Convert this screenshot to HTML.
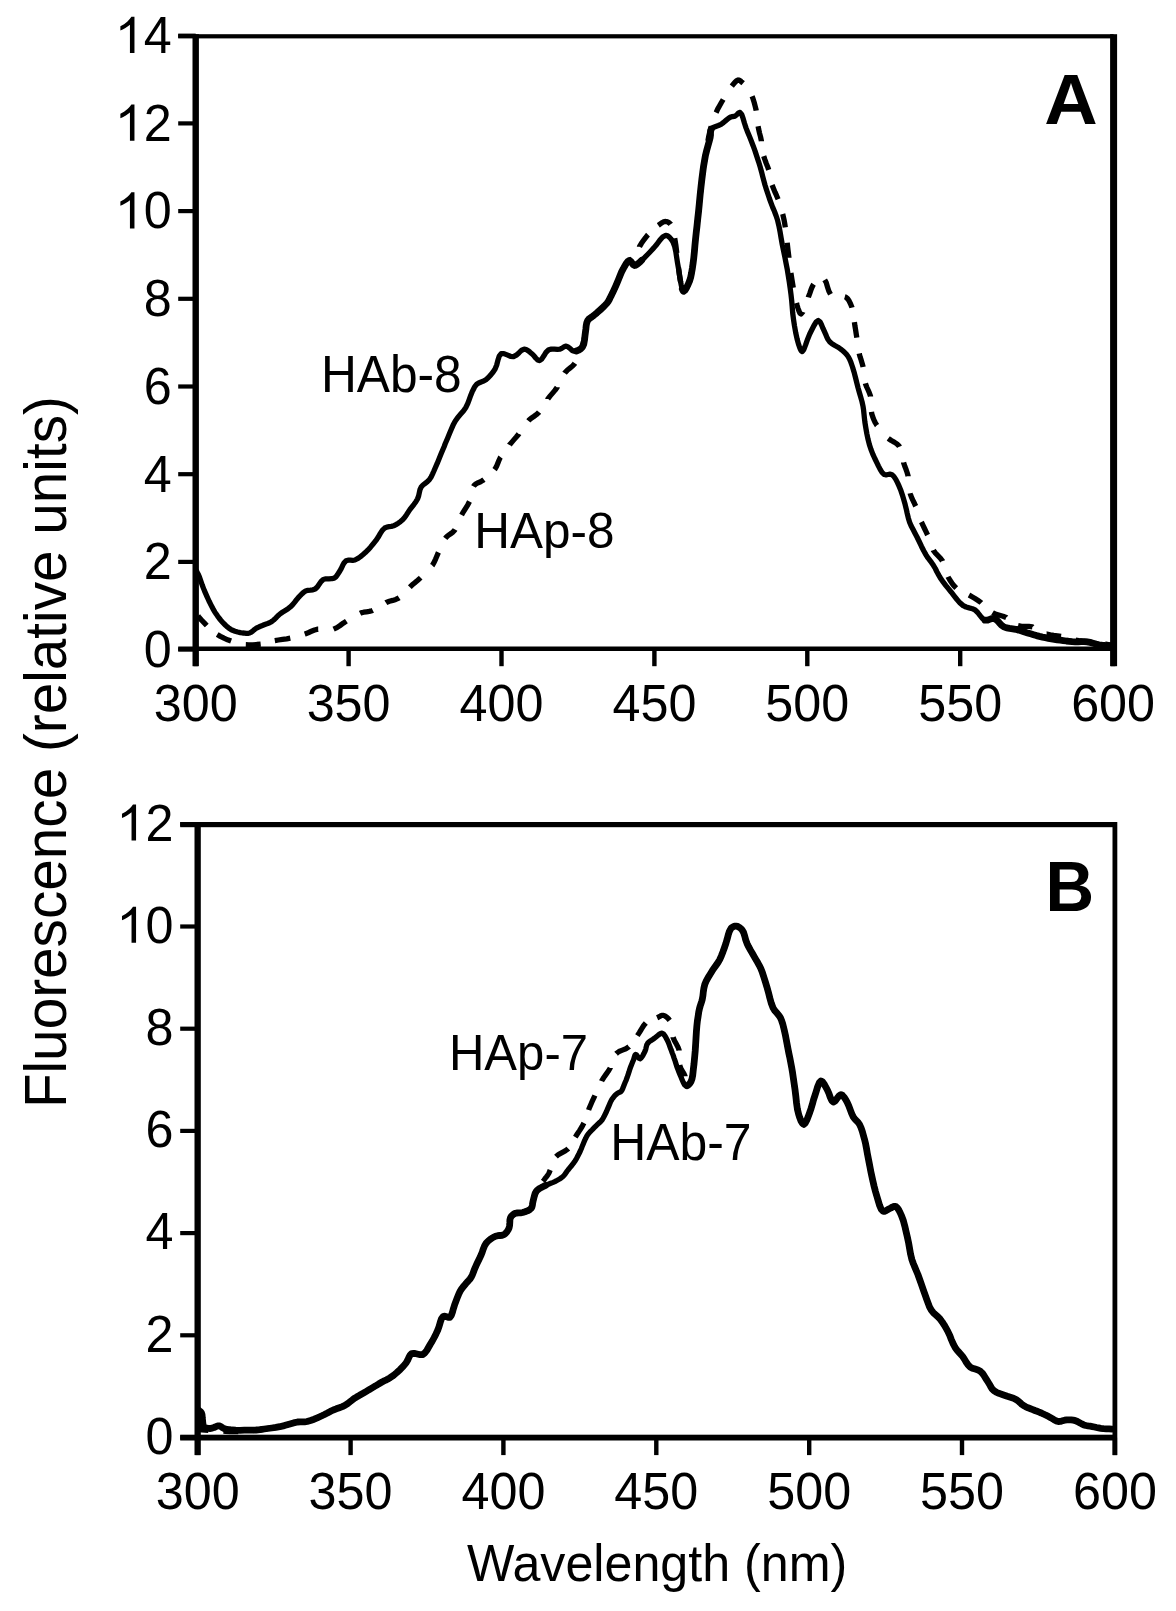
<!DOCTYPE html>
<html><head><meta charset="utf-8"><style>
html,body{margin:0;padding:0;background:#fff;}
svg{display:block;}
text{font-family:"Liberation Sans",sans-serif;font-size:50.3px;fill:#000;}
.s{fill:none;stroke:#000;stroke-width:5.3;stroke-linejoin:round;stroke-linecap:round;}
.t{fill:none;stroke:#000;stroke-width:6.8;stroke-linejoin:round;stroke-linecap:round;}
.d2{fill:none;stroke:#000;stroke-width:5.3;stroke-linejoin:round;stroke-linecap:butt;}
.d{fill:none;stroke:#000;stroke-width:5.3;stroke-linejoin:round;stroke-linecap:butt;stroke-dasharray:15 15;}
</style></head><body>
<svg width="1176" height="1611" viewBox="0 0 1176 1611">
<rect width="1176" height="1611" fill="#fff"/>
<g fill="#000">
<rect x="192.5" y="34.2" width="6.4" height="632.0" />
<rect x="1110.1" y="34.2" width="7.0" height="632.0" />
<rect x="178.2" y="34.2" width="935.4" height="4.2" />
<rect x="178.2" y="646.5" width="935.4" height="4.5" />
<rect x="178.2" y="647.5" width="17.5" height="4.2" />
<text x="0" y="0" transform="translate(143.82,666.90) scale(1,1.04)">0</text>
<rect x="178.2" y="559.8" width="17.5" height="4.2" />
<text x="0" y="0" transform="translate(143.82,579.20) scale(1,1.04)">2</text>
<rect x="178.2" y="472.1" width="17.5" height="4.2" />
<text x="0" y="0" transform="translate(143.82,491.50) scale(1,1.04)">4</text>
<rect x="178.2" y="384.4" width="17.5" height="4.2" />
<text x="0" y="0" transform="translate(143.82,403.80) scale(1,1.04)">6</text>
<rect x="178.2" y="296.7" width="17.5" height="4.2" />
<text x="0" y="0" transform="translate(143.82,316.10) scale(1,1.04)">8</text>
<rect x="178.2" y="209.0" width="17.5" height="4.2" />
<path d="M0.370,0 L0.280,0 L0.280,-0.560 C0.258,-0.539 0.228,-0.518 0.190,-0.496 C0.153,-0.474 0.119,-0.458 0.090,-0.447 L0.090,-0.532 C0.142,-0.556 0.187,-0.586 0.226,-0.621 C0.265,-0.656 0.292,-0.689 0.309,-0.716 L0.370,-0.716 Z" transform="translate(115.85,228.40) scale(50.30,50.48)"/><text x="0" y="0" transform="translate(143.82,228.40) scale(1,1.04)">0</text>
<rect x="178.2" y="121.3" width="17.5" height="4.2" />
<path d="M0.370,0 L0.280,0 L0.280,-0.560 C0.258,-0.539 0.228,-0.518 0.190,-0.496 C0.153,-0.474 0.119,-0.458 0.090,-0.447 L0.090,-0.532 C0.142,-0.556 0.187,-0.586 0.226,-0.621 C0.265,-0.656 0.292,-0.689 0.309,-0.716 L0.370,-0.716 Z" transform="translate(115.85,140.70) scale(50.30,50.48)"/><text x="0" y="0" transform="translate(143.82,140.70) scale(1,1.04)">2</text>
<rect x="178.2" y="33.6" width="17.5" height="4.2" />
<path d="M0.370,0 L0.280,0 L0.280,-0.560 C0.258,-0.539 0.228,-0.518 0.190,-0.496 C0.153,-0.474 0.119,-0.458 0.090,-0.447 L0.090,-0.532 C0.142,-0.556 0.187,-0.586 0.226,-0.621 C0.265,-0.656 0.292,-0.689 0.309,-0.716 L0.370,-0.716 Z" transform="translate(115.85,53.00) scale(50.30,50.48)"/><text x="0" y="0" transform="translate(143.82,53.00) scale(1,1.04)">4</text>
<rect x="193.5" y="648.7" width="4.4" height="17.5" />
<text x="0" y="0" transform="translate(153.73,721.10) scale(1,1.04)">3</text><text x="0" y="0" transform="translate(181.71,721.10) scale(1,1.04)">0</text><text x="0" y="0" transform="translate(209.69,721.10) scale(1,1.04)">0</text>
<rect x="346.4" y="648.7" width="4.4" height="17.5" />
<text x="0" y="0" transform="translate(306.63,721.10) scale(1,1.04)">3</text><text x="0" y="0" transform="translate(334.61,721.10) scale(1,1.04)">5</text><text x="0" y="0" transform="translate(362.59,721.10) scale(1,1.04)">0</text>
<rect x="499.3" y="648.7" width="4.4" height="17.5" />
<text x="0" y="0" transform="translate(459.53,721.10) scale(1,1.04)">4</text><text x="0" y="0" transform="translate(487.51,721.10) scale(1,1.04)">0</text><text x="0" y="0" transform="translate(515.49,721.10) scale(1,1.04)">0</text>
<rect x="652.2" y="648.7" width="4.4" height="17.5" />
<text x="0" y="0" transform="translate(612.43,721.10) scale(1,1.04)">4</text><text x="0" y="0" transform="translate(640.41,721.10) scale(1,1.04)">5</text><text x="0" y="0" transform="translate(668.39,721.10) scale(1,1.04)">0</text>
<rect x="805.1" y="648.7" width="4.4" height="17.5" />
<text x="0" y="0" transform="translate(765.33,721.10) scale(1,1.04)">5</text><text x="0" y="0" transform="translate(793.31,721.10) scale(1,1.04)">0</text><text x="0" y="0" transform="translate(821.29,721.10) scale(1,1.04)">0</text>
<rect x="958.0" y="648.7" width="4.4" height="17.5" />
<text x="0" y="0" transform="translate(918.23,721.10) scale(1,1.04)">5</text><text x="0" y="0" transform="translate(946.21,721.10) scale(1,1.04)">5</text><text x="0" y="0" transform="translate(974.19,721.10) scale(1,1.04)">0</text>
<rect x="1110.9" y="648.7" width="4.4" height="17.5" />
<text x="0" y="0" transform="translate(1071.13,721.10) scale(1,1.04)">6</text><text x="0" y="0" transform="translate(1099.11,721.10) scale(1,1.04)">0</text><text x="0" y="0" transform="translate(1127.09,721.10) scale(1,1.04)">0</text>
<rect x="194.5" y="822.0" width="6.3" height="633.1" />
<rect x="1112.5" y="822.0" width="4.8" height="633.1" />
<rect x="180.2" y="822.0" width="934.7" height="5.2" />
<rect x="180.2" y="1434.7" width="934.7" height="5.8" />
<rect x="180.2" y="1435.4" width="17.5" height="4.2" />
<text x="0" y="0" transform="translate(145.42,1453.80) scale(1,1.04)">0</text>
<rect x="180.2" y="1333.2" width="17.5" height="4.2" />
<text x="0" y="0" transform="translate(145.42,1351.60) scale(1,1.04)">2</text>
<rect x="180.2" y="1231.0" width="17.5" height="4.2" />
<text x="0" y="0" transform="translate(145.42,1249.40) scale(1,1.04)">4</text>
<rect x="180.2" y="1128.8" width="17.5" height="4.2" />
<text x="0" y="0" transform="translate(145.42,1147.20) scale(1,1.04)">6</text>
<rect x="180.2" y="1026.6" width="17.5" height="4.2" />
<text x="0" y="0" transform="translate(145.42,1045.00) scale(1,1.04)">8</text>
<rect x="180.2" y="924.4" width="17.5" height="4.2" />
<path d="M0.370,0 L0.280,0 L0.280,-0.560 C0.258,-0.539 0.228,-0.518 0.190,-0.496 C0.153,-0.474 0.119,-0.458 0.090,-0.447 L0.090,-0.532 C0.142,-0.556 0.187,-0.586 0.226,-0.621 C0.265,-0.656 0.292,-0.689 0.309,-0.716 L0.370,-0.716 Z" transform="translate(117.45,942.80) scale(50.30,50.48)"/><text x="0" y="0" transform="translate(145.42,942.80) scale(1,1.04)">0</text>
<rect x="180.2" y="822.2" width="17.5" height="4.2" />
<path d="M0.370,0 L0.280,0 L0.280,-0.560 C0.258,-0.539 0.228,-0.518 0.190,-0.496 C0.153,-0.474 0.119,-0.458 0.090,-0.447 L0.090,-0.532 C0.142,-0.556 0.187,-0.586 0.226,-0.621 C0.265,-0.656 0.292,-0.689 0.309,-0.716 L0.370,-0.716 Z" transform="translate(117.45,840.60) scale(50.30,50.48)"/><text x="0" y="0" transform="translate(145.42,840.60) scale(1,1.04)">2</text>
<rect x="195.5" y="1437.6" width="4.4" height="17.5" />
<text x="0" y="0" transform="translate(155.73,1508.80) scale(1,1.04)">3</text><text x="0" y="0" transform="translate(183.71,1508.80) scale(1,1.04)">0</text><text x="0" y="0" transform="translate(211.69,1508.80) scale(1,1.04)">0</text>
<rect x="348.4" y="1437.6" width="4.4" height="17.5" />
<text x="0" y="0" transform="translate(308.60,1508.80) scale(1,1.04)">3</text><text x="0" y="0" transform="translate(336.58,1508.80) scale(1,1.04)">5</text><text x="0" y="0" transform="translate(364.55,1508.80) scale(1,1.04)">0</text>
<rect x="501.2" y="1437.6" width="4.4" height="17.5" />
<text x="0" y="0" transform="translate(461.46,1508.80) scale(1,1.04)">4</text><text x="0" y="0" transform="translate(489.44,1508.80) scale(1,1.04)">0</text><text x="0" y="0" transform="translate(517.42,1508.80) scale(1,1.04)">0</text>
<rect x="654.1" y="1437.6" width="4.4" height="17.5" />
<text x="0" y="0" transform="translate(614.33,1508.80) scale(1,1.04)">4</text><text x="0" y="0" transform="translate(642.31,1508.80) scale(1,1.04)">5</text><text x="0" y="0" transform="translate(670.28,1508.80) scale(1,1.04)">0</text>
<rect x="807.0" y="1437.6" width="4.4" height="17.5" />
<text x="0" y="0" transform="translate(767.19,1508.80) scale(1,1.04)">5</text><text x="0" y="0" transform="translate(795.17,1508.80) scale(1,1.04)">0</text><text x="0" y="0" transform="translate(823.15,1508.80) scale(1,1.04)">0</text>
<rect x="959.8" y="1437.6" width="4.4" height="17.5" />
<text x="0" y="0" transform="translate(920.06,1508.80) scale(1,1.04)">5</text><text x="0" y="0" transform="translate(948.04,1508.80) scale(1,1.04)">5</text><text x="0" y="0" transform="translate(976.01,1508.80) scale(1,1.04)">0</text>
<rect x="1112.7" y="1437.6" width="4.4" height="17.5" />
<text x="0" y="0" transform="translate(1072.92,1508.80) scale(1,1.04)">6</text><text x="0" y="0" transform="translate(1100.90,1508.80) scale(1,1.04)">0</text><text x="0" y="0" transform="translate(1128.88,1508.80) scale(1,1.04)">0</text>
<path d="M196.5,571.0 L197.1,572.2 L197.7,573.4 L198.4,574.6 L199.0,576.0 L200.0,578.7 L201.1,581.8 L202.2,585.0 L203.4,588.1 L204.5,590.9 L205.7,593.6 L206.9,596.3 L208.1,599.0 L209.4,601.8 L210.8,604.6 L212.2,607.3 L213.6,609.9 L214.9,612.1 L216.2,614.1 L217.6,616.1 L219.0,618.0 L220.6,620.0 L222.3,621.9 L224.0,623.8 L225.8,625.5 L227.4,626.9 L229.0,628.2 L230.7,629.3 L232.6,630.3 L235.0,631.2 L237.7,632.0 L240.3,632.6 L242.8,633.0 L244.6,633.2 L246.3,633.4 L248.0,633.3 L249.6,633.0 L251.3,632.1 L253.0,630.8 L254.7,629.4 L256.4,628.2 L258.1,627.3 L259.9,626.5 L261.7,625.8 L263.5,625.0 L265.5,624.2 L267.6,623.5 L269.6,622.7 L271.6,621.6 L273.7,620.0 L275.7,618.1 L277.7,616.0 L279.8,614.1 L282.4,612.3 L285.3,610.5 L288.1,608.7 L290.7,606.7 L292.9,604.4 L294.9,601.9 L296.8,599.4 L298.8,597.1 L300.5,595.3 L302.1,593.7 L303.7,592.2 L305.6,591.0 L307.9,590.3 L310.4,590.1 L312.9,589.8 L315.2,589.0 L317.3,587.0 L319.2,584.2 L321.1,581.5 L323.3,579.5 L325.9,578.8 L328.9,578.8 L331.8,578.7 L334.2,578.1 L335.9,576.8 L337.2,575.1 L338.4,573.3 L339.7,571.3 L341.2,568.6 L342.6,565.6 L344.1,562.8 L346.0,560.8 L348.0,560.2 L350.3,560.2 L352.6,560.4 L354.9,560.0 L357.5,558.7 L360.2,556.9 L362.8,554.8 L365.3,552.6 L368.0,549.9 L370.7,546.9 L373.3,543.8 L375.8,540.7 L378.1,537.3 L380.2,533.7 L382.3,530.4 L384.7,528.0 L386.8,527.1 L389.1,526.7 L391.4,526.4 L393.6,525.8 L395.9,524.6 L398.3,523.2 L400.5,521.6 L402.6,519.8 L404.6,517.5 L406.4,514.9 L408.2,512.1 L410.0,509.4 L412.0,506.8 L414.0,504.3 L415.9,501.7 L417.5,499.0 L418.6,496.0 L419.3,492.8 L420.0,489.7 L421.2,487.0 L423.0,485.0 L425.2,483.3 L427.4,481.6 L429.4,479.6 L431.1,477.0 L432.5,474.1 L433.9,471.0 L435.3,467.7 L437.2,463.4 L439.1,458.8 L441.0,454.1 L442.8,449.8 L444.1,446.7 L445.2,443.8 L446.4,441.0 L447.7,437.9 L449.4,433.8 L451.2,429.5 L453.1,425.1 L455.3,421.0 L457.8,417.4 L460.7,414.1 L463.6,410.7 L466.0,407.2 L467.8,403.4 L469.3,399.3 L470.7,395.4 L472.1,391.9 L473.2,389.7 L474.2,387.7 L475.3,385.9 L476.7,384.3 L478.7,383.0 L481.1,382.0 L483.6,381.1 L485.9,379.7 L488.4,377.5 L490.8,374.9 L493.1,372.0 L495.1,369.0 L496.7,365.0 L497.9,360.3 L499.2,356.2 L501.2,353.7 L503.9,353.6 L507.1,354.9 L510.4,356.3 L513.5,356.7 L516.3,355.2 L519.1,352.7 L521.7,350.2 L524.2,349.1 L526.2,349.5 L528.1,350.7 L530.0,352.2 L531.8,353.7 L533.8,355.6 L535.7,358.0 L537.6,359.9 L539.5,360.6 L541.7,359.1 L543.9,355.8 L546.1,352.2 L548.7,349.8 L551.4,349.1 L554.4,349.2 L557.4,349.4 L560.0,349.2 L561.7,348.4 L563.2,347.4 L564.6,346.5 L566.1,346.1 L568.1,346.9 L570.1,348.6 L572.2,350.4 L574.3,351.2 L576.4,351.0 L578.7,350.1 L580.7,348.8 L582.4,347.1 L583.8,344.0 L584.5,340.0 L585.0,335.7 L585.5,331.8 L585.9,328.7 L586.2,325.7 L586.7,323.0 L587.6,320.6 L588.8,319.1 L590.3,318.0 L591.9,316.9 L593.7,315.5 L596.9,312.8 L600.5,309.6 L604.1,306.3 L606.9,303.3 L608.2,301.5 L609.2,299.8 L610.0,298.0 L611.0,296.1 L612.5,293.1 L614.0,289.8 L615.6,286.3 L617.1,282.9 L618.6,279.3 L620.1,275.5 L621.6,271.9 L623.3,268.6 L624.8,266.0 L626.3,263.3 L627.9,261.3 L629.4,260.4 L630.6,261.1 L631.9,262.8 L633.1,264.6 L634.5,265.5 L636.1,265.1 L637.9,263.8 L639.7,262.2 L641.6,260.4 L644.5,257.7 L647.6,254.5 L650.7,251.2 L653.8,247.9 L656.9,244.2 L659.9,240.1 L662.9,236.8 L665.7,235.4 L667.7,235.9 L669.6,237.4 L671.4,239.5 L672.9,241.9 L674.6,246.3 L675.8,251.7 L676.7,257.6 L677.6,263.3 L678.6,269.0 L679.4,274.8 L680.3,280.3 L681.2,284.8 L681.7,287.0 L682.3,289.1 L682.9,290.6 L683.6,291.3 L684.9,290.3 L686.5,287.8 L688.1,284.5 L689.5,281.2 L690.7,277.2 L691.6,272.8 L692.4,268.1 L693.1,263.3 L693.8,257.6 L694.4,251.7 L694.9,245.7 L695.5,239.5 L696.2,232.8 L697.0,226.0 L697.7,219.1 L698.5,212.0 L699.3,203.8 L700.1,195.3 L701.0,186.9 L701.9,179.0 L702.7,172.7 L703.5,166.6 L704.5,160.8 L705.5,155.2 L706.7,150.4 L708.0,145.7 L709.2,141.3 L710.2,137.4 L710.5,135.0 L710.5,132.8 L710.7,130.8 L711.4,129.0 L713.2,127.5 L715.7,126.5 L718.4,125.5 L721.0,124.3 L723.5,122.5 L726.0,120.4 L728.3,118.5 L730.5,117.1 L731.8,116.7 L732.9,116.5 L734.1,116.4 L735.2,116.0 L736.5,115.0 L737.7,113.8 L738.9,112.7 L740.0,112.4 L741.7,114.4 L743.1,118.4 L744.5,123.3 L746.0,127.9 L747.7,132.2 L749.5,136.6 L751.3,141.1 L753.1,145.7 L755.0,150.9 L756.8,156.4 L758.6,161.8 L760.2,167.1 L761.5,171.7 L762.6,176.1 L763.8,180.6 L765.0,185.0 L766.4,189.5 L767.9,194.0 L769.4,198.5 L771.0,202.9 L772.6,207.1 L774.4,211.3 L776.0,215.5 L777.5,220.0 L778.9,225.8 L780.1,232.1 L781.2,238.5 L782.3,244.8 L783.6,251.0 L784.9,257.2 L786.1,263.4 L787.3,269.6 L788.3,275.8 L789.3,282.0 L790.2,288.3 L791.0,294.5 L791.7,300.7 L792.2,306.9 L792.7,313.1 L793.5,319.3 L794.5,325.9 L795.7,332.6 L797.1,339.0 L798.5,344.1 L799.4,346.7 L800.3,349.1 L801.2,350.9 L802.2,351.6 L803.8,349.6 L805.6,344.9 L807.6,339.2 L809.6,334.2 L811.7,330.0 L814.0,325.5 L816.2,321.9 L818.3,320.5 L820.0,321.8 L821.5,324.8 L823.0,328.4 L824.5,331.7 L825.7,334.3 L826.7,336.9 L827.9,339.3 L829.5,341.6 L832.0,343.7 L834.9,345.5 L838.0,347.2 L840.7,349.1 L842.8,350.8 L844.7,352.5 L846.5,354.4 L848.1,356.5 L849.6,359.2 L850.9,362.3 L852.0,365.5 L853.1,368.9 L854.4,373.3 L855.6,378.0 L856.8,382.8 L858.0,387.6 L859.3,392.3 L860.7,397.0 L862.0,401.6 L863.0,406.2 L863.6,410.2 L864.0,414.1 L864.4,418.1 L864.9,422.3 L865.8,427.7 L866.8,433.5 L868.0,439.2 L869.4,444.7 L871.0,449.5 L872.8,454.1 L874.8,458.5 L876.8,462.6 L878.5,466.1 L880.3,469.6 L882.2,472.6 L884.3,474.5 L886.1,474.8 L888.0,474.5 L889.9,474.2 L891.7,474.5 L893.8,476.4 L895.8,479.4 L897.6,482.9 L899.2,486.4 L900.9,490.6 L902.4,495.1 L903.8,499.7 L905.1,504.3 L906.2,508.8 L907.2,513.4 L908.3,517.9 L909.6,522.2 L911.2,526.0 L913.1,529.6 L915.0,533.3 L917.0,537.0 L919.2,541.5 L921.4,546.2 L923.7,550.8 L926.0,554.9 L927.8,557.7 L929.7,560.2 L931.6,562.7 L933.4,565.3 L935.3,568.5 L937.0,572.0 L938.9,575.4 L940.9,578.8 L943.3,582.2 L945.9,585.6 L948.6,588.9 L951.3,592.2 L954.1,595.8 L957.0,599.5 L960.0,602.9 L963.2,605.6 L966.1,607.0 L969.2,607.9 L972.3,608.7 L975.1,610.0 L977.7,612.5 L980.1,615.6 L982.5,618.5 L985.0,620.2 L987.3,620.2 L989.6,619.4 L992.0,618.6 L994.3,618.6 L996.7,620.0 L999.0,622.4 L1001.3,625.0 L1003.8,626.9 L1006.6,627.9 L1009.6,628.4 L1012.7,628.8 L1015.7,629.3 L1018.7,630.1 L1021.7,631.0 L1024.6,632.0 L1027.6,632.9 L1030.6,633.8 L1033.5,634.7 L1036.5,635.6 L1039.5,636.4 L1042.5,637.1 L1045.4,637.7 L1048.4,638.3 L1051.4,638.8 L1054.4,639.3 L1057.3,639.8 L1060.3,640.2 L1063.3,640.6 L1066.3,641.0 L1069.2,641.3 L1072.2,641.6 L1075.2,641.8 L1078.2,641.8 L1081.2,641.7 L1084.1,641.6 L1087.1,641.8 L1090.1,642.4 L1093.0,643.2 L1096.0,644.1 L1099.0,644.8 L1102.0,645.2 L1105.0,645.5 L1108.0,645.7 L1111.0,646.0" class="s"/>
<path d="M198.0,615.9 L198.6,616.7 L200.1,618.4 L201.9,620.5 L204.0,622.7 L206.1,624.8 L206.8,625.5 M217.2,634.5 L220.4,636.4 L224.0,638.2 L227.6,639.8 L231.1,641.1 M245.8,644.7 L248.9,644.8 L252.8,644.8 L256.8,644.5 L260.7,644.1 L260.7,644.1 M274.8,640.6 L278.4,640.0 L282.5,639.4 L286.7,638.8 L290.3,638.1 M304.7,634.0 L305.0,633.9 L308.2,632.7 L311.4,631.3 L314.6,630.0 L317.9,629.1 L318.2,629.1 M333.6,629.1 L336.9,627.6 L340.1,625.5 L343.2,623.2 L346.4,621.1 M360.1,613.3 L360.9,612.9 L363.7,612.2 L366.5,611.8 L369.2,611.4 L372.0,610.7 L372.8,610.3 M385.9,602.7 L386.2,602.5 L389.4,601.3 L392.7,600.4 L395.8,599.4 L398.8,598.0 L399.1,597.8 M409.8,587.1 L410.0,586.9 L412.6,584.6 L415.2,582.4 L417.8,580.3 L420.4,577.9 L420.6,577.7 M432.2,565.5 L432.4,565.3 L434.2,562.2 L435.6,559.1 L436.9,555.9 L438.3,552.6 L438.4,552.4 M445.3,538.4 L445.8,537.7 L447.9,535.6 L450.3,534.0 L452.6,532.3 L454.7,530.2 L455.1,529.5 M461.6,515.0 L463.4,511.8 L465.6,508.3 L467.8,504.8 L469.5,501.5 M473.6,486.5 L474.1,485.5 L476.0,483.8 L478.2,482.7 L480.6,481.7 L483.0,480.3 L483.9,479.6 M494.6,469.6 L494.9,469.2 L496.5,466.4 L497.7,463.4 L498.9,460.5 L500.3,457.5 L500.6,457.1 M509.5,445.0 L509.6,444.8 L511.9,442.1 L514.2,439.4 L516.5,436.8 L518.8,434.0 L518.9,433.8 M528.4,420.8 L528.8,420.3 L531.2,418.2 L533.8,416.5 L536.3,414.7 L538.7,412.6 L539.1,412.1 M547.9,398.9 L547.9,398.8 L550.2,395.9 L552.6,393.1 L554.9,390.4 L557.1,387.4 L557.1,387.3 M564.6,373.1 L564.8,372.8 L567.2,370.3 L569.9,368.1 L572.5,366.0 L574.7,363.6 L574.9,363.3 M581.1,349.2 L581.1,349.1 L582.2,346.1 L583.1,343.1 L584.0,340.0 L584.7,336.5 L585.0,334.7 M588.8,319.8 L589.0,319.6 L590.0,318.0 L590.8,317.2 L591.7,316.7 L592.6,316.2 L593.7,315.5 L596.7,313.1 L600.1,310.1 M609.9,298.4 L610.0,298.0 L611.0,296.1 L612.5,293.1 L614.0,289.8 L615.6,286.3 L616.3,284.8 M622.3,270.6 L623.3,268.6 L624.7,266.2 L626.2,264.0 L627.8,262.0 L629.4,260.4 L630.7,259.7 L631.7,259.4 M639.5,246.8 L639.5,246.7 L641.3,243.6 L643.4,240.6 L645.6,237.6 L647.9,234.8 L648.0,234.7 M658.3,225.4 L658.6,225.2 L660.3,223.9 L661.9,222.8 L663.4,221.9 L665.0,221.5 L666.4,221.6 L667.9,222.1 L669.3,222.9 L670.5,224.0 L670.7,224.3 M674.7,238.3 L675.0,240.0 L675.9,245.5 L676.6,251.4 L676.8,253.1 M678.6,267.6 L678.7,269.0 L679.5,274.9 L680.3,280.3 L680.7,282.5 M686.8,287.3 L688.1,284.5 L689.5,281.2 L690.7,277.2 L691.6,273.1 M693.7,258.7 L693.8,257.6 L694.4,251.7 L694.9,245.7 L695.1,243.7 M696.6,229.2 L697.0,226.0 L697.7,219.1 L698.3,214.2 M699.7,199.7 L700.1,195.3 L701.0,186.9 L701.2,184.7 M703.1,170.2 L703.6,166.9 L704.5,161.1 L705.5,155.4 M707.9,141.0 L708.8,136.0 L710.2,130.0 L711.2,126.4 M716.1,112.6 L716.2,112.4 L717.8,108.9 L719.6,105.7 L721.4,102.5 L723.2,99.5 M731.8,86.1 L733.3,84.2 L735.0,82.2 L736.6,80.7 L738.2,80.0 L739.3,80.2 L740.3,80.8 L741.3,81.7 L742.4,82.6 L743.1,83.2 M752.1,96.3 L753.1,98.9 L754.2,102.5 L755.2,106.3 L756.1,110.0 L756.2,110.6 M758.1,126.3 L758.7,129.4 L759.6,133.3 L760.6,137.1 L761.4,141.0 L761.4,141.2 M763.7,156.1 L763.8,156.4 L764.9,159.7 L766.1,163.0 L767.4,166.2 L768.6,169.5 L768.7,169.8 M772.1,185.1 L773.5,188.6 L775.0,192.2 L776.6,195.7 L778.1,199.2 M782.7,214.1 L782.9,214.8 L783.6,217.8 L784.2,220.6 L784.7,223.5 L785.2,226.7 L785.3,227.4 M787.2,242.8 L787.3,243.8 L788.0,250.0 L788.9,257.3 L788.9,257.7 M790.9,273.0 L792.0,280.0 L793.1,286.7 L793.3,287.8 M796.5,303.0 L797.0,305.0 L797.9,308.0 L798.9,310.9 L799.9,313.1 L801.0,314.0 L802.7,312.1 L802.8,311.8 M808.3,297.4 L808.4,297.0 L809.7,293.6 L810.8,290.3 L812.0,287.2 L813.4,284.5 L813.6,284.2 M824.7,279.9 L826.2,282.5 L827.5,286.9 L828.9,291.3 L830.5,294.2 M844.8,296.8 L845.6,297.0 L847.5,298.6 L849.2,301.1 L850.6,304.0 L851.8,306.9 L852.0,307.7 M854.4,322.1 L854.9,325.8 L855.6,329.8 L856.2,333.9 L856.8,337.6 M859.2,353.5 L859.3,354.0 L860.2,357.2 L861.2,360.2 L862.1,363.3 L863.0,366.5 L863.1,367.0 M865.4,383.4 L865.5,383.8 L866.7,387.0 L868.1,390.0 L869.4,393.0 L870.5,396.2 L870.5,396.6 M871.5,411.9 L871.7,413.6 L872.7,416.8 L873.9,419.9 L875.3,422.7 L876.8,425.3 L876.9,425.4 M888.3,438.4 L888.7,438.7 L891.3,440.5 L894.2,442.1 L896.9,443.9 L899.2,446.2 L899.4,446.7 M903.6,462.4 L903.6,462.6 L904.7,466.0 L906.0,469.3 L907.1,472.5 L908.1,476.0 L908.1,476.2 M910.2,493.3 L910.3,493.8 L911.4,497.0 L912.7,499.9 L914.1,502.7 L915.5,505.8 L915.7,506.2 M921.4,522.0 L921.5,522.2 L923.0,525.4 L924.5,528.5 L926.0,531.6 L927.5,534.8 L927.6,535.0 M933.3,550.1 L933.4,550.4 L935.5,553.2 L937.9,555.6 L940.3,558.1 L942.4,560.9 L942.5,561.2 M948.1,576.8 L948.3,577.3 L950.0,580.3 L951.9,583.1 L953.8,585.6 L955.8,587.7 L956.2,588.1 M969.0,595.0 L969.2,595.1 L972.0,596.7 L975.0,598.5 L978.1,600.5 L981.1,602.6 L981.3,602.8 M992.5,612.7 L993.0,613.0 L996.2,614.4 L999.6,615.3 L1003.0,616.2 L1006.2,617.4 L1006.3,617.5 M1018.0,625.6 L1018.1,625.7 L1021.5,626.4 L1025.1,626.4 L1028.8,626.4 L1032.4,626.9 L1032.5,627.0 M1046.6,634.0 L1046.7,634.0 L1050.2,634.9 L1053.8,635.4 L1057.4,635.8 L1061.0,636.4 L1061.1,636.4 M1075.7,640.1 L1078.6,640.6 L1082.3,641.1 L1086.1,641.5 L1090.0,642.0 L1090.5,642.1 M1105.4,644.2 L1105.7,644.2 L1111.0,645.0 " class="d2"/>
<path d="M198.5,1410.0 L199.3,1410.7 L200.1,1411.4 L200.9,1412.1 L201.5,1413.0 L202.0,1414.5 L202.2,1416.3 L202.3,1418.2 L202.5,1420.0 L202.7,1421.9 L202.9,1423.9 L203.3,1425.6 L204.0,1427.0 L205.2,1427.8 L206.8,1428.2 L208.5,1428.4 L210.0,1428.5 L211.0,1428.4 L212.0,1428.2 L213.0,1427.8 L214.0,1427.5 L215.2,1427.0 L216.5,1426.4 L217.8,1425.9 L219.0,1425.8 L220.2,1426.2 L221.4,1426.9 L222.6,1427.8 L224.0,1428.5 L225.8,1429.0 L227.7,1429.4 L229.7,1429.7 L232.0,1430.0 L235.7,1430.2 L240.0,1430.3 L244.3,1430.2 L248.0,1430.2 L250.2,1430.2 L252.2,1430.2 L254.1,1430.1 L256.0,1430.0 L258.0,1429.8 L260.0,1429.6 L262.0,1429.3 L264.3,1429.0 L267.8,1428.5 L271.7,1428.0 L275.8,1427.4 L279.8,1426.7 L284.3,1425.6 L289.0,1424.2 L293.5,1422.9 L297.6,1422.0 L300.1,1421.8 L302.4,1421.8 L304.7,1421.8 L307.1,1421.5 L310.5,1420.5 L314.2,1419.2 L317.9,1417.6 L321.4,1416.0 L324.5,1414.5 L327.4,1413.0 L330.3,1411.4 L333.3,1410.0 L336.3,1408.8 L339.4,1407.7 L342.4,1406.6 L345.2,1405.2 L347.7,1403.6 L350.1,1401.7 L352.5,1399.8 L354.8,1398.1 L356.9,1396.8 L358.9,1395.7 L360.9,1394.5 L363.1,1393.3 L366.0,1391.6 L369.1,1389.7 L372.2,1387.9 L375.0,1386.2 L376.9,1385.1 L378.6,1384.0 L380.3,1383.0 L382.0,1382.0 L383.5,1381.2 L385.0,1380.5 L386.5,1379.8 L388.0,1379.0 L389.5,1378.1 L390.9,1377.2 L392.4,1376.2 L394.0,1375.0 L396.9,1372.5 L400.2,1369.4 L403.4,1366.1 L406.1,1362.9 L407.6,1360.3 L408.8,1357.6 L410.0,1355.2 L411.7,1353.6 L414.2,1353.3 L417.2,1354.0 L420.2,1354.7 L422.8,1354.5 L425.0,1352.8 L426.9,1350.3 L428.6,1347.3 L430.3,1344.3 L432.3,1341.0 L434.2,1337.5 L436.0,1333.9 L437.7,1330.3 L439.1,1326.4 L440.3,1322.2 L441.6,1318.5 L443.3,1316.3 L444.8,1316.2 L446.6,1316.8 L448.3,1317.4 L449.8,1317.3 L451.3,1315.4 L452.4,1312.3 L453.4,1308.7 L454.5,1305.2 L455.8,1301.6 L457.2,1297.9 L458.6,1294.4 L460.1,1291.2 L461.4,1289.1 L462.8,1287.3 L464.3,1285.5 L465.7,1283.8 L467.1,1282.2 L468.6,1280.6 L470.0,1279.0 L471.2,1277.2 L472.3,1275.0 L473.2,1272.7 L474.1,1270.3 L475.1,1267.8 L476.5,1264.7 L478.0,1261.5 L479.6,1258.2 L481.1,1255.0 L482.3,1251.9 L483.4,1248.7 L484.6,1245.7 L486.2,1243.1 L488.2,1241.0 L490.5,1239.1 L493.0,1237.5 L495.5,1236.3 L497.7,1235.7 L499.9,1235.5 L502.1,1235.3 L504.0,1234.6 L505.6,1233.3 L507.0,1231.7 L508.2,1229.8 L509.1,1227.8 L509.6,1225.3 L509.8,1222.5 L509.9,1219.8 L510.5,1217.6 L511.4,1216.2 L512.5,1215.1 L513.7,1214.1 L515.1,1213.4 L516.8,1213.0 L518.7,1212.9 L520.7,1212.8 L522.7,1212.5 L525.0,1211.8 L527.4,1210.9 L529.6,1209.7 L531.2,1208.3 L532.0,1206.8 L532.4,1205.2 L532.6,1203.4 L533.0,1201.5 L533.6,1199.0 L534.3,1196.2 L535.1,1193.5 L536.3,1191.3 L537.6,1189.9 L539.1,1188.8 L540.7,1187.9 L542.3,1187.0 L543.9,1186.2 L545.6,1185.4 L547.3,1184.7 L549.0,1184.0 L550.7,1183.3 L552.5,1182.6 L554.3,1181.8 L556.0,1181.0 L557.8,1180.0 L559.6,1179.0 L561.4,1177.8 L563.0,1176.5 L564.4,1175.0 L565.6,1173.4 L566.7,1171.7 L568.0,1170.0 L569.7,1167.9 L571.5,1165.7 L573.3,1163.4 L575.0,1161.0 L576.5,1158.6 L577.8,1156.0 L579.1,1153.5 L580.3,1151.0 L581.3,1148.7 L582.2,1146.4 L583.1,1144.2 L584.0,1142.0 L584.8,1140.1 L585.7,1138.3 L586.5,1136.6 L587.5,1135.0 L588.5,1133.7 L589.6,1132.4 L590.8,1131.2 L592.0,1130.0 L593.3,1128.6 L594.7,1127.2 L596.1,1125.8 L597.4,1124.5 L598.6,1123.4 L599.8,1122.4 L600.9,1121.3 L602.0,1120.0 L603.2,1118.1 L604.3,1116.0 L605.4,1113.8 L606.5,1111.5 L607.6,1108.9 L608.8,1106.1 L609.9,1103.4 L611.0,1101.0 L611.8,1099.6 L612.7,1098.3 L613.6,1097.1 L614.5,1096.0 L615.3,1095.1 L616.2,1094.4 L617.1,1093.6 L618.0,1093.0 L618.8,1092.6 L619.6,1092.3 L620.5,1091.9 L621.2,1091.3 L622.2,1089.8 L623.0,1087.9 L623.8,1085.8 L624.6,1083.8 L625.3,1082.1 L626.0,1080.5 L626.6,1078.8 L627.3,1077.0 L628.1,1074.6 L629.0,1071.9 L629.8,1069.2 L630.7,1066.8 L631.4,1065.0 L632.1,1063.3 L632.8,1061.6 L633.5,1060.0 L634.0,1058.3 L634.5,1056.6 L635.0,1055.1 L635.7,1054.4 L636.6,1055.0 L637.7,1056.5 L638.9,1058.1 L640.0,1058.7 L641.3,1057.8 L642.7,1055.8 L644.0,1053.3 L645.1,1051.0 L645.8,1049.1 L646.2,1047.1 L646.7,1045.1 L647.6,1043.4 L649.0,1041.9 L650.7,1040.7 L652.6,1039.5 L654.4,1038.3 L656.3,1036.7 L658.4,1035.0 L660.3,1033.6 L662.1,1033.2 L663.6,1034.1 L664.9,1035.8 L666.1,1037.9 L667.2,1040.0 L668.2,1042.0 L669.0,1044.1 L669.8,1046.3 L670.6,1048.5 L671.5,1050.8 L672.3,1053.1 L673.2,1055.4 L674.0,1057.8 L674.9,1060.3 L675.7,1062.9 L676.5,1065.5 L677.4,1068.0 L678.2,1070.2 L679.0,1072.3 L679.9,1074.4 L680.8,1076.5 L681.9,1079.2 L683.2,1082.2 L684.5,1084.7 L685.9,1085.9 L687.2,1085.7 L688.6,1084.7 L689.9,1083.2 L691.0,1081.6 L692.0,1078.9 L692.7,1075.4 L693.1,1071.7 L693.5,1068.0 L694.0,1064.0 L694.4,1059.8 L694.8,1055.5 L695.2,1051.0 L695.6,1044.9 L696.0,1038.2 L696.4,1031.6 L696.9,1025.5 L697.4,1020.9 L698.1,1016.4 L698.7,1012.3 L699.5,1008.5 L700.2,1006.0 L700.9,1003.9 L701.6,1001.7 L702.3,999.3 L702.9,995.8 L703.3,992.0 L703.9,988.1 L704.8,984.4 L706.3,980.8 L708.2,977.3 L710.3,974.0 L712.3,970.7 L714.2,967.9 L716.1,965.2 L718.0,962.5 L719.7,959.6 L721.4,955.8 L723.0,951.7 L724.5,947.5 L725.9,943.4 L727.1,939.3 L728.2,935.1 L729.4,931.3 L730.9,928.5 L732.0,927.4 L733.3,926.7 L734.6,926.2 L735.9,926.1 L737.5,926.4 L739.1,927.2 L740.7,928.4 L742.1,929.8 L743.6,932.5 L744.7,936.0 L745.7,939.8 L747.0,943.4 L748.7,946.9 L750.6,950.4 L752.6,953.8 L754.5,957.1 L756.1,959.9 L757.7,962.6 L759.2,965.3 L760.7,968.3 L762.4,972.6 L763.9,977.2 L765.4,982.0 L766.9,986.9 L768.4,992.3 L769.8,997.9 L771.3,1003.3 L773.1,1008.0 L774.9,1010.8 L776.9,1013.1 L778.9,1015.4 L780.5,1017.9 L781.7,1020.8 L782.7,1023.8 L783.5,1027.0 L784.3,1030.3 L785.3,1034.7 L786.2,1039.4 L787.1,1044.2 L788.0,1048.9 L788.9,1053.5 L789.9,1058.1 L790.8,1062.8 L791.7,1067.6 L792.6,1072.9 L793.4,1078.4 L794.2,1084.0 L795.0,1089.6 L795.8,1096.0 L796.5,1102.7 L797.4,1109.1 L798.7,1114.5 L799.8,1117.8 L801.0,1121.0 L802.4,1123.4 L803.7,1124.4 L805.2,1123.1 L806.9,1119.9 L808.5,1115.8 L809.9,1112.0 L811.2,1108.1 L812.4,1104.1 L813.5,1099.9 L814.8,1095.9 L816.2,1091.5 L817.7,1086.6 L819.3,1082.7 L821.0,1081.0 L822.5,1081.8 L824.1,1084.0 L825.7,1086.9 L827.2,1089.6 L828.8,1093.1 L830.2,1097.1 L831.7,1100.5 L833.4,1102.1 L835.2,1101.1 L837.1,1098.4 L839.1,1095.8 L840.9,1094.6 L842.5,1095.4 L844.1,1097.2 L845.7,1099.6 L847.1,1102.1 L848.7,1105.6 L850.2,1109.6 L851.7,1113.6 L853.3,1117.0 L854.8,1119.0 L856.4,1120.7 L858.1,1122.4 L859.5,1124.4 L861.0,1127.6 L862.3,1131.3 L863.4,1135.3 L864.5,1139.3 L865.6,1143.8 L866.5,1148.5 L867.3,1153.2 L868.2,1157.9 L869.1,1162.5 L870.0,1167.2 L870.9,1171.8 L871.9,1176.5 L873.0,1181.5 L874.2,1186.6 L875.5,1191.6 L876.9,1196.4 L878.2,1200.8 L879.6,1205.4 L881.2,1209.2 L883.1,1211.3 L884.5,1211.3 L886.1,1210.6 L887.7,1209.6 L889.3,1208.8 L890.9,1208.0 L892.5,1207.0 L894.0,1206.3 L895.5,1206.3 L897.2,1207.6 L898.8,1210.0 L900.3,1213.0 L901.7,1216.2 L903.4,1220.8 L904.8,1226.1 L906.1,1231.7 L907.4,1237.2 L908.6,1242.9 L909.6,1248.7 L910.6,1254.3 L911.9,1259.6 L913.3,1263.5 L914.8,1267.1 L916.3,1270.7 L917.9,1274.5 L919.7,1279.5 L921.6,1284.9 L923.5,1290.3 L925.3,1295.3 L926.7,1299.3 L928.1,1303.2 L929.5,1306.9 L931.3,1310.2 L933.3,1312.7 L935.6,1314.8 L938.0,1316.9 L940.2,1319.2 L942.2,1321.9 L944.1,1324.8 L945.9,1327.9 L947.7,1331.1 L949.6,1335.1 L951.3,1339.5 L953.1,1343.7 L955.1,1347.5 L956.9,1350.0 L958.8,1352.1 L960.7,1354.2 L962.6,1356.4 L964.4,1359.1 L966.1,1362.0 L967.9,1364.7 L970.0,1366.9 L972.4,1368.2 L975.2,1369.1 L978.0,1370.0 L980.4,1371.3 L982.6,1373.5 L984.4,1376.2 L986.2,1379.1 L987.9,1381.8 L989.4,1384.2 L990.7,1386.6 L992.1,1388.8 L993.9,1390.7 L996.2,1392.2 L998.8,1393.3 L1001.5,1394.2 L1004.3,1395.2 L1007.3,1396.3 L1010.4,1397.3 L1013.5,1398.3 L1016.2,1399.6 L1018.2,1401.0 L1020.0,1402.6 L1021.7,1404.2 L1023.6,1405.6 L1025.8,1406.8 L1028.1,1407.8 L1030.5,1408.7 L1032.8,1409.6 L1034.9,1410.5 L1037.1,1411.3 L1039.2,1412.1 L1041.3,1413.0 L1043.4,1414.0 L1045.6,1415.0 L1047.7,1416.1 L1049.8,1417.2 L1051.9,1418.4 L1054.0,1419.7 L1056.1,1420.9 L1058.3,1421.5 L1060.4,1421.4 L1062.5,1420.8 L1064.7,1420.2 L1066.8,1419.8 L1068.9,1419.8 L1071.1,1419.8 L1073.2,1420.1 L1075.3,1420.6 L1077.4,1421.5 L1079.6,1422.7 L1081.7,1423.9 L1083.8,1424.9 L1085.9,1425.5 L1088.0,1425.9 L1090.2,1426.2 L1092.3,1426.6 L1094.4,1427.0 L1096.5,1427.5 L1098.6,1427.9 L1100.8,1428.3 L1103.5,1428.6 L1106.3,1428.8 L1109.2,1428.9 L1112.0,1429.1" class="s"/>
<path d="M198.5,1429.5 L201.8,1429.8 L205.1,1430.0 L208.4,1430.3 M223.4,1431.2 L225.4,1431.3 L230.0,1431.5 L234.7,1431.6 L238.4,1431.7 M253.3,1430.5 L254.1,1430.4 L256.0,1430.0 L258.0,1429.7 L260.0,1429.5 L262.0,1429.3 L264.3,1429.0 L267.8,1428.5 L268.1,1428.5 M282.9,1425.9 L284.3,1425.6 L289.0,1424.2 L293.5,1422.9 L297.4,1422.0 M312.1,1419.9 L314.2,1419.2 L317.9,1417.6 L321.4,1416.0 L324.5,1414.5 L325.8,1413.8 M339.4,1407.7 L342.4,1406.6 L345.2,1405.2 L347.7,1403.6 L350.1,1401.7 L352.2,1400.0 M365.0,1392.2 L366.0,1391.6 L369.1,1389.7 L372.2,1387.9 L375.0,1386.2 L376.9,1385.1 L377.9,1384.5 M391.0,1377.2 L392.4,1376.2 L394.0,1375.0 L396.9,1372.5 L400.2,1369.4 L402.2,1367.3 M410.3,1354.9 L411.7,1353.6 L414.2,1353.3 L417.2,1354.0 L420.2,1354.7 L422.8,1354.5 L424.3,1353.4 M432.4,1340.8 L434.2,1337.5 L436.0,1333.9 L437.7,1330.3 L438.8,1327.3 M446.2,1316.6 L446.6,1316.8 L448.3,1317.4 L449.8,1317.3 L451.3,1315.4 L452.4,1312.3 L453.4,1308.7 L453.9,1307.0 M459.2,1293.0 L460.1,1291.2 L461.4,1289.1 L462.8,1287.3 L464.3,1285.5 L465.7,1283.8 L467.1,1282.2 L468.2,1281.0 M475.1,1267.9 L475.1,1267.8 L476.5,1264.7 L478.0,1261.5 L479.6,1258.2 L481.1,1255.0 L481.4,1254.3 M488.1,1241.1 L488.2,1241.0 L490.5,1239.1 L493.0,1237.5 L495.5,1236.3 L497.7,1235.7 L499.9,1235.5 L501.6,1235.4 M509.7,1224.0 L509.8,1222.5 L509.9,1219.8 L510.5,1217.6 L511.4,1216.2 L512.5,1215.1 L513.7,1214.1 L515.1,1213.4 L516.8,1213.0 L517.2,1212.9 M531.1,1208.4 L531.2,1208.3 L532.0,1206.8 L532.4,1205.2 L532.6,1203.4 L533.0,1201.5 L533.7,1199.1 L534.4,1196.5 L535.2,1194.0 M543.0,1181.3 L544.0,1180.0 L545.3,1178.2 L546.6,1176.6 L547.8,1175.0 L549.0,1173.0 L550.2,1170.1 M556.0,1156.7 L556.1,1156.6 L558.8,1154.3 L562.0,1152.6 L565.2,1150.9 L568.0,1148.9 L568.3,1148.6 M575.3,1137.1 L577.1,1134.3 L579.7,1130.4 L582.1,1126.5 L583.9,1123.1 M588.6,1110.0 L589.0,1108.8 L590.3,1105.7 L591.6,1102.7 L593.0,1099.7 L594.4,1096.6 L594.9,1095.4 M601.6,1081.1 L601.7,1080.8 L603.8,1077.5 L606.0,1074.4 L608.2,1071.3 L610.2,1068.0 L610.2,1067.9 M616.1,1053.7 L616.2,1053.6 L619.0,1051.5 L622.4,1050.1 L625.9,1048.7 L628.9,1046.8 L629.0,1046.7 M637.4,1035.6 L639.5,1032.4 L641.6,1028.8 L643.7,1025.5 L645.8,1023.1 M657.1,1017.7 L657.1,1017.7 L658.7,1017.0 L659.8,1016.4 L660.8,1015.8 L661.8,1015.4 L662.9,1015.3 L664.6,1015.8 L666.5,1017.0 L668.2,1018.5 L669.7,1020.4 M673.1,1037.2 L673.1,1037.4 L674.5,1040.7 L676.2,1043.8 L677.9,1046.9 L679.1,1050.2 L679.1,1050.4 M679.8,1065.0 L680.0,1066.3 L681.1,1068.9 L682.5,1071.3 L683.9,1073.6 L685.0,1076.0 L685.0,1076.2 M690.2,1082.8 L691.0,1081.6 L692.0,1078.8 L692.6,1075.4 L693.1,1071.7 L693.5,1068.3 M695.0,1053.4 L695.2,1051.0 L695.6,1044.9 L696.0,1038.5 M697.1,1023.5 L697.4,1020.9 L698.1,1016.4 L698.7,1012.3 L699.5,1008.7 M703.1,994.2 L703.3,992.0 L703.9,988.1 L704.8,984.4 L706.3,980.8 L706.9,979.8 M714.8,967.0 L716.1,965.2 L718.0,962.5 L719.7,959.6 L721.4,955.8 L722.1,954.0 M727.0,939.9 L727.1,939.3 L728.2,935.1 L729.4,931.3 L730.9,928.5 L732.0,927.4 L733.2,926.7 M744.1,934.1 L744.7,936.0 L745.7,939.8 L747.0,943.4 L748.7,946.9 L749.4,948.1 M756.9,961.1 L757.7,962.6 L759.2,965.3 L760.7,968.3 L762.4,972.6 L763.1,974.7 M767.5,989.1 L768.4,992.3 L769.8,997.9 L771.3,1003.3 L771.4,1003.6 M779.3,1016.1 L780.5,1017.9 L781.7,1020.8 L782.7,1023.8 L783.5,1027.0 L784.3,1030.1 M787.2,1044.8 L788.0,1048.9 L788.9,1053.5 L789.9,1058.1 L790.2,1059.6 M792.8,1074.3 L793.4,1078.4 L794.2,1084.0 L794.9,1089.2 M796.7,1104.1 L797.4,1109.1 L798.7,1114.5 L799.8,1117.8 L800.1,1118.6 M807.7,1117.6 L808.5,1115.8 L809.9,1112.0 L811.2,1108.1 L812.4,1104.1 L812.6,1103.4 M816.9,1089.1 L817.7,1086.6 L819.3,1082.7 L821.0,1081.0 L822.5,1081.8 L824.1,1084.0 L824.7,1085.2 M831.0,1098.8 L831.7,1100.5 L833.4,1102.1 L835.2,1101.1 L837.1,1098.4 L839.1,1095.8 L840.9,1094.6 L840.9,1094.6 M849.2,1106.7 L850.2,1109.6 L851.7,1113.6 L853.3,1117.0 L854.8,1119.0 L855.8,1120.0 M862.8,1133.0 L863.4,1135.3 L864.5,1139.3 L865.6,1143.8 L866.3,1147.6 M869.1,1162.3 L869.1,1162.5 L870.0,1167.2 L870.9,1171.8 L871.9,1176.5 L872.0,1177.0 M875.5,1191.6 L875.5,1191.6 L876.9,1196.4 L878.2,1200.8 L879.6,1205.4 L879.9,1206.0 M890.9,1208.0 L892.5,1207.0 L894.0,1206.3 L895.5,1206.3 L897.2,1207.6 L898.8,1210.0 L900.3,1213.0 L901.0,1214.5 M905.5,1228.8 L906.1,1231.7 L907.4,1237.2 L908.6,1242.9 L908.6,1243.4 M911.5,1258.1 L911.9,1259.6 L913.3,1263.5 L914.8,1267.1 L916.3,1270.7 L916.9,1272.1 M922.1,1286.2 L923.5,1290.3 L925.3,1295.3 L926.7,1299.3 L927.1,1300.3 M934.1,1313.4 L935.6,1314.8 L938.0,1316.9 L940.2,1319.2 L942.2,1321.9 L944.0,1324.6 M950.7,1337.9 L951.3,1339.5 L953.1,1343.7 L955.1,1347.5 L956.9,1350.0 L957.8,1351.0 M966.8,1363.0 L967.9,1364.7 L970.0,1366.9 L972.4,1368.2 L975.2,1369.1 L978.0,1370.0 L979.2,1370.6 M988.2,1382.3 L989.4,1384.2 L990.7,1386.6 L992.1,1388.8 L993.9,1390.7 L996.2,1392.2 L998.1,1393.0 M1012.3,1397.9 L1013.5,1398.3 L1016.2,1399.6 L1018.2,1401.0 L1020.0,1402.6 L1021.7,1404.2 L1023.6,1405.6 L1024.7,1406.2 M1038.5,1411.9 L1039.2,1412.1 L1041.3,1413.0 L1043.4,1414.0 L1045.6,1415.0 L1047.7,1416.1 L1049.8,1417.2 L1051.9,1418.4 L1052.0,1418.5 M1066.1,1419.9 L1066.8,1419.8 L1068.9,1419.8 L1071.1,1419.8 L1073.2,1420.1 L1075.3,1420.6 L1077.4,1421.5 L1079.6,1422.7 L1080.4,1423.2 M1094.7,1427.1 L1096.5,1427.5 L1098.6,1427.9 L1100.8,1428.3 L1103.5,1428.6 L1106.3,1428.8 L1109.2,1428.9 L1109.6,1429.0 " class="d2"/>
<path d="M576.4,351.0 L578.7,350.1 L580.7,348.8 L582.4,347.1 L583.8,344.0 L584.5,340.0 L585.0,335.7 L585.5,331.8 L585.9,328.7 L586.2,325.7 L586.7,323.0 L587.6,320.6 L588.8,319.1 L590.3,318.0 L591.9,316.9 L593.7,315.5 L596.9,312.8 L600.5,309.6 L604.1,306.3 L606.9,303.3 L608.2,301.5 L609.2,299.8 L610.0,298.0 L611.0,296.1 L612.5,293.1 L614.0,289.8 L615.6,286.3 L617.1,282.9 L618.6,279.3 L620.1,275.5 L621.6,271.9 L623.3,268.6 L624.8,266.0 L626.3,263.3 L627.9,261.3 L629.4,260.4 L630.6,261.1 L631.9,262.8 L633.1,264.6 L634.5,265.5 L636.1,265.1 L637.9,263.8 L639.7,262.2 L641.6,260.4" class="t"/>
<path d="M682.3,289.1 L682.9,290.6 L683.6,291.3 L684.9,290.3 L686.5,287.8 L688.1,284.5 L689.5,281.2 L690.7,277.2 L691.6,272.8 L692.4,268.1 L693.1,263.3 L693.8,257.6 L694.4,251.7 L694.9,245.7 L695.5,239.5 L696.2,232.8 L697.0,226.0 L697.7,219.1 L698.5,212.0 L699.3,203.8 L700.1,195.3 L701.0,186.9 L701.9,179.0 L702.7,172.7 L703.5,166.6 L704.5,160.8 L705.5,155.2 L706.7,150.4 L708.0,145.7 L709.2,141.3 L710.2,137.4 L710.5,135.0 L710.5,132.8 L710.7,130.8 L711.4,129.0" class="t"/>
<path d="M985.0,620.2 L987.3,620.2 L989.6,619.4 L992.0,618.6 L994.3,618.6 L996.7,620.0 L999.0,622.4 L1001.3,625.0 L1003.8,626.9 L1006.6,627.9 L1009.6,628.4 L1012.7,628.8 L1015.7,629.3 L1018.7,630.1 L1021.7,631.0 L1024.6,632.0 L1027.6,632.9 L1030.6,633.8 L1033.5,634.7 L1036.5,635.6 L1039.5,636.4 L1042.5,637.1 L1045.4,637.7 L1048.4,638.3 L1051.4,638.8 L1054.4,639.3 L1057.3,639.8 L1060.3,640.2 L1063.3,640.6 L1066.3,641.0 L1069.2,641.3 L1072.2,641.6 L1075.2,641.8 L1078.2,641.8 L1081.2,641.7 L1084.1,641.6 L1087.1,641.8 L1090.1,642.4 L1093.0,643.2 L1096.0,644.1 L1099.0,644.8 L1102.0,645.2 L1105.0,645.5 L1108.0,645.7 L1111.0,646.0" class="t"/>
<path d="M198.5,1410.0 L199.3,1410.7 L200.1,1411.4 L200.9,1412.1 L201.5,1413.0 L202.0,1414.5 L202.2,1416.3 L202.3,1418.2 L202.5,1420.0 L202.7,1421.9 L202.9,1423.9 L203.3,1425.6 L204.0,1427.0 L205.2,1427.8 L206.8,1428.2 L208.5,1428.4 L210.0,1428.5 L211.0,1428.4 L212.0,1428.2 L213.0,1427.8 L214.0,1427.5 L215.2,1427.0 L216.5,1426.4 L217.8,1425.9 L219.0,1425.8 L220.2,1426.2 L221.4,1426.9 L222.6,1427.8 L224.0,1428.5 L225.8,1429.0 L227.7,1429.4 L229.7,1429.7 L232.0,1430.0 L235.7,1430.2 L240.0,1430.3 L244.3,1430.2 L248.0,1430.2 L250.2,1430.2 L252.2,1430.2 L254.1,1430.1 L256.0,1430.0 L258.0,1429.8 L260.0,1429.6 L262.0,1429.3 L264.3,1429.0 L267.8,1428.5 L271.7,1428.0 L275.8,1427.4 L279.8,1426.7 L284.3,1425.6 L289.0,1424.2 L293.5,1422.9 L297.6,1422.0 L300.1,1421.8 L302.4,1421.8 L304.7,1421.8 L307.1,1421.5 L310.5,1420.5 L314.2,1419.2 L317.9,1417.6 L321.4,1416.0 L324.5,1414.5 L327.4,1413.0 L330.3,1411.4 L333.3,1410.0 L336.3,1408.8 L339.4,1407.7 L342.4,1406.6 L345.2,1405.2 L347.7,1403.6 L350.1,1401.7 L352.5,1399.8 L354.8,1398.1 L356.9,1396.8 L358.9,1395.7 L360.9,1394.5 L363.1,1393.3 L366.0,1391.6 L369.1,1389.7 L372.2,1387.9 L375.0,1386.2 L376.9,1385.1 L378.6,1384.0 L380.3,1383.0 L382.0,1382.0 L383.5,1381.2 L385.0,1380.5 L386.5,1379.8 L388.0,1379.0 L389.5,1378.1 L390.9,1377.2 L392.4,1376.2 L394.0,1375.0 L396.9,1372.5 L400.2,1369.4 L403.4,1366.1 L406.1,1362.9 L407.6,1360.3 L408.8,1357.6 L410.0,1355.2 L411.7,1353.6 L414.2,1353.3 L417.2,1354.0 L420.2,1354.7 L422.8,1354.5 L425.0,1352.8 L426.9,1350.3 L428.6,1347.3 L430.3,1344.3 L432.3,1341.0 L434.2,1337.5 L436.0,1333.9 L437.7,1330.3 L439.1,1326.4 L440.3,1322.2 L441.6,1318.5 L443.3,1316.3 L444.8,1316.2 L446.6,1316.8 L448.3,1317.4 L449.8,1317.3 L451.3,1315.4 L452.4,1312.3 L453.4,1308.7 L454.5,1305.2 L455.8,1301.6 L457.2,1297.9 L458.6,1294.4 L460.1,1291.2 L461.4,1289.1 L462.8,1287.3 L464.3,1285.5 L465.7,1283.8 L467.1,1282.2 L468.6,1280.6 L470.0,1279.0 L471.2,1277.2 L472.3,1275.0 L473.2,1272.7 L474.1,1270.3 L475.1,1267.8 L476.5,1264.7 L478.0,1261.5 L479.6,1258.2 L481.1,1255.0 L482.3,1251.9 L483.4,1248.7 L484.6,1245.7 L486.2,1243.1 L488.2,1241.0 L490.5,1239.1 L493.0,1237.5 L495.5,1236.3 L497.7,1235.7 L499.9,1235.5 L502.1,1235.3 L504.0,1234.6 L505.6,1233.3 L507.0,1231.7 L508.2,1229.8 L509.1,1227.8 L509.6,1225.3 L509.8,1222.5 L509.9,1219.8 L510.5,1217.6 L511.4,1216.2 L512.5,1215.1 L513.7,1214.1 L515.1,1213.4 L516.8,1213.0 L518.7,1212.9 L520.7,1212.8 L522.7,1212.5 L525.0,1211.8 L527.4,1210.9 L529.6,1209.7 L531.2,1208.3 L532.0,1206.8 L532.4,1205.2 L532.6,1203.4 L533.0,1201.5 L533.6,1199.0 L534.3,1196.2 L535.1,1193.5 L536.3,1191.3 L537.6,1189.9 L539.1,1188.8 L540.7,1187.9 L542.3,1187.0 L543.9,1186.2 L545.6,1185.4" class="t"/>
<path d="M687.2,1085.7 L688.6,1084.7 L689.9,1083.2 L691.0,1081.6 L692.0,1078.9 L692.7,1075.4 L693.1,1071.7 L693.5,1068.0 L694.0,1064.0 L694.4,1059.8 L694.8,1055.5 L695.2,1051.0 L695.6,1044.9 L696.0,1038.2 L696.4,1031.6 L696.9,1025.5 L697.4,1020.9 L698.1,1016.4 L698.7,1012.3 L699.5,1008.5 L700.2,1006.0 L700.9,1003.9 L701.6,1001.7 L702.3,999.3 L702.9,995.8 L703.3,992.0 L703.9,988.1 L704.8,984.4 L706.3,980.8 L708.2,977.3 L710.3,974.0 L712.3,970.7 L714.2,967.9 L716.1,965.2 L718.0,962.5 L719.7,959.6 L721.4,955.8 L723.0,951.7 L724.5,947.5 L725.9,943.4 L727.1,939.3 L728.2,935.1 L729.4,931.3 L730.9,928.5 L732.0,927.4 L733.3,926.7 L734.6,926.2 L735.9,926.1 L737.5,926.4 L739.1,927.2 L740.7,928.4 L742.1,929.8 L743.6,932.5 L744.7,936.0 L745.7,939.8 L747.0,943.4 L748.7,946.9 L750.6,950.4 L752.6,953.8 L754.5,957.1 L756.1,959.9 L757.7,962.6 L759.2,965.3 L760.7,968.3 L762.4,972.6 L763.9,977.2 L765.4,982.0 L766.9,986.9 L768.4,992.3 L769.8,997.9 L771.3,1003.3 L773.1,1008.0 L774.9,1010.8 L776.9,1013.1 L778.9,1015.4 L780.5,1017.9 L781.7,1020.8 L782.7,1023.8 L783.5,1027.0 L784.3,1030.3 L785.3,1034.7 L786.2,1039.4 L787.1,1044.2 L788.0,1048.9 L788.9,1053.5 L789.9,1058.1 L790.8,1062.8 L791.7,1067.6 L792.6,1072.9 L793.4,1078.4 L794.2,1084.0 L795.0,1089.6 L795.8,1096.0 L796.5,1102.7 L797.4,1109.1 L798.7,1114.5 L799.8,1117.8 L801.0,1121.0 L802.4,1123.4 L803.7,1124.4 L805.2,1123.1 L806.9,1119.9 L808.5,1115.8 L809.9,1112.0 L811.2,1108.1 L812.4,1104.1 L813.5,1099.9 L814.8,1095.9 L816.2,1091.5 L817.7,1086.6 L819.3,1082.7 L821.0,1081.0 L822.5,1081.8 L824.1,1084.0 L825.7,1086.9 L827.2,1089.6 L828.8,1093.1 L830.2,1097.1 L831.7,1100.5 L833.4,1102.1 L835.2,1101.1 L837.1,1098.4 L839.1,1095.8 L840.9,1094.6 L842.5,1095.4 L844.1,1097.2 L845.7,1099.6 L847.1,1102.1 L848.7,1105.6 L850.2,1109.6 L851.7,1113.6 L853.3,1117.0 L854.8,1119.0 L856.4,1120.7 L858.1,1122.4 L859.5,1124.4 L861.0,1127.6 L862.3,1131.3 L863.4,1135.3 L864.5,1139.3 L865.6,1143.8 L866.5,1148.5 L867.3,1153.2 L868.2,1157.9 L869.1,1162.5 L870.0,1167.2 L870.9,1171.8 L871.9,1176.5 L873.0,1181.5 L874.2,1186.6 L875.5,1191.6 L876.9,1196.4 L878.2,1200.8 L879.6,1205.4 L881.2,1209.2 L883.1,1211.3 L884.5,1211.3 L886.1,1210.6 L887.7,1209.6 L889.3,1208.8 L890.9,1208.0 L892.5,1207.0 L894.0,1206.3 L895.5,1206.3 L897.2,1207.6 L898.8,1210.0 L900.3,1213.0 L901.7,1216.2 L903.4,1220.8 L904.8,1226.1 L906.1,1231.7 L907.4,1237.2 L908.6,1242.9 L909.6,1248.7 L910.6,1254.3 L911.9,1259.6 L913.3,1263.5 L914.8,1267.1 L916.3,1270.7 L917.9,1274.5 L919.7,1279.5 L921.6,1284.9 L923.5,1290.3 L925.3,1295.3 L926.7,1299.3 L928.1,1303.2 L929.5,1306.9 L931.3,1310.2 L933.3,1312.7 L935.6,1314.8 L938.0,1316.9 L940.2,1319.2 L942.2,1321.9 L944.1,1324.8 L945.9,1327.9 L947.7,1331.1 L949.6,1335.1 L951.3,1339.5 L953.1,1343.7 L955.1,1347.5 L956.9,1350.0 L958.8,1352.1 L960.7,1354.2 L962.6,1356.4 L964.4,1359.1 L966.1,1362.0 L967.9,1364.7 L970.0,1366.9 L972.4,1368.2 L975.2,1369.1 L978.0,1370.0 L980.4,1371.3 L982.6,1373.5 L984.4,1376.2 L986.2,1379.1 L987.9,1381.8 L989.4,1384.2 L990.7,1386.6 L992.1,1388.8 L993.9,1390.7 L996.2,1392.2 L998.8,1393.3 L1001.5,1394.2 L1004.3,1395.2 L1007.3,1396.3 L1010.4,1397.3 L1013.5,1398.3 L1016.2,1399.6 L1018.2,1401.0 L1020.0,1402.6 L1021.7,1404.2 L1023.6,1405.6 L1025.8,1406.8 L1028.1,1407.8 L1030.5,1408.7 L1032.8,1409.6 L1034.9,1410.5 L1037.1,1411.3 L1039.2,1412.1 L1041.3,1413.0 L1043.4,1414.0 L1045.6,1415.0 L1047.7,1416.1 L1049.8,1417.2 L1051.9,1418.4 L1054.0,1419.7 L1056.1,1420.9 L1058.3,1421.5 L1060.4,1421.4 L1062.5,1420.8 L1064.7,1420.2 L1066.8,1419.8 L1068.9,1419.8 L1071.1,1419.8 L1073.2,1420.1 L1075.3,1420.6 L1077.4,1421.5 L1079.6,1422.7 L1081.7,1423.9 L1083.8,1424.9 L1085.9,1425.5 L1088.0,1425.9 L1090.2,1426.2 L1092.3,1426.6 L1094.4,1427.0 L1096.5,1427.5 L1098.6,1427.9 L1100.8,1428.3 L1103.5,1428.6 L1106.3,1428.8 L1109.2,1428.9 L1112.0,1429.1" class="t"/>
<text x="0" y="0" style="font-size:49.7px;font-weight:normal" transform="translate(320.9,392.4) scale(1,1.025)">HAb-8</text>
<text x="0" y="0" style="font-size:49.5px;font-weight:normal" transform="translate(474.2,548.4) scale(1,1.025)">HAp-8</text>
<text x="0" y="0" style="font-size:49.1px;font-weight:normal" transform="translate(448.9,1070.3) scale(1,1.025)">HAp-7</text>
<text x="0" y="0" style="font-size:49.9px;font-weight:normal" transform="translate(610.2,1160.3) scale(1,1.025)">HAb-7</text>
<text x="0" y="0" style="font-size:70.5px;font-weight:bold" transform="translate(1044.2,123.6) scale(1.05,1)">A</text>
<text x="0" y="0" style="font-size:70.5px;font-weight:bold" transform="translate(1045.4,911.3) scale(0.955,0.985)">B</text>
<text x="0" y="0" style="font-size:50.2px;font-weight:normal" transform="translate(466.9,1581.0) scale(1,1.04)">Wavelength (nm)</text>
<text x="0" y="0" style="font-size:56.7px" transform="translate(66.1,1108.1) rotate(-90) scale(1,1.04)">Fluorescence (relative units)</text>
</g>
</svg>
</body></html>
